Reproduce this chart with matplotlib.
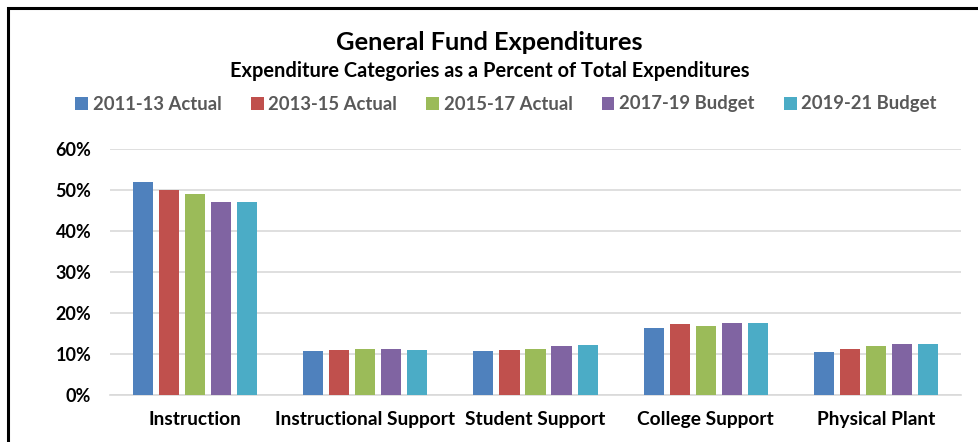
import matplotlib.pyplot as plt
import numpy as np
from matplotlib.patches import Rectangle

plt.rcParams["font.family"] = ["Lato", "DejaVu Sans"]
plt.rcParams["font.weight"] = "bold"

categories = ["Instruction", "Instructional Support", "Student Support",
              "College Support", "Physical Plant"]
series_names = ["2011-13 Actual", "2013-15 Actual", "2015-17 Actual",
                "2017-19 Budget", "2019-21 Budget"]

# share of total expenditures, percent
actual_2011_13 = [52.0, 10.7, 10.7, 16.2, 10.5]
actual_2013_15 = [50.0, 10.9, 10.8, 17.3, 11.1]
actual_2015_17 = [49.0, 11.2, 11.1, 16.8, 12.0]
budget_2017_19 = [47.0, 11.2, 11.9, 17.6, 12.4]
budget_2019_21 = [47.0, 10.9, 12.2, 17.6, 12.4]
series_values = [actual_2011_13, actual_2013_15, actual_2015_17,
                 budget_2017_19, budget_2019_21]

y_ticks = [0, 10, 20, 30, 40, 50, 60]

colors = ["#4F81BD", "#C0504D", "#9BBB59", "#8064A2", "#4BACC6"]

fig = plt.figure(figsize=(9.79, 4.42), dpi=100)
ax = fig.add_axes([110 / 979, 1 - 394.7 / 442, 851 / 979, (394.7 - 149) / 442])

x = np.arange(len(categories))
step = 0.153
width = 0.118
for i, (name, vals) in enumerate(zip(series_names, series_values)):
    ax.bar(x + (i - 2) * step, vals, width=width, color=colors[i],
           label=name, zorder=3)

ax.set_xlim(-0.5, len(categories) - 0.5)
ax.set_ylim(0, 60)
ax.set_yticks(y_ticks)
ax.set_yticklabels([f"{v}%" for v in y_ticks])
ax.set_xticks(x)
ax.set_xticklabels(categories)
ax.tick_params(axis="both", length=0)
ax.tick_params(axis="x", pad=12, labelsize=13.8)
ax.tick_params(axis="y", pad=13.5, labelsize=13)
ax.grid(axis="y", color="#D9D9D9", linewidth=1.2, zorder=0)
for side in ["top", "right", "left"]:
    ax.spines[side].set_visible(False)
ax.spines["bottom"].set_color("#D9D9D9")
ax.spines["bottom"].set_linewidth(1.2)

fig.text(0.5, 1 - 42 / 442, "General Fund Expenditures", ha="center",
         va="center", fontsize=18.3, fontweight="bold")
fig.text(0.5, 1 - 71 / 442,
         "Expenditure Categories as a Percent of Total Expenditures",
         ha="center", va="center", fontsize=14.4, fontweight="bold")

leg = fig.legend(loc="center", bbox_to_anchor=(506 / 979, 1 - 104 / 442),
                 ncol=5, frameon=False, fontsize=13.3, handlelength=0.7,
                 handleheight=0.7, handletextpad=0.25, columnspacing=1.57)
for t in leg.get_texts():
    t.set_color("#595959")

# outer chart frame
fig.patches.append(Rectangle((8 / 979, -0.05), 1.1, 1 - 8 / 442 + 0.05,
                             transform=fig.transFigure, fill=False,
                             edgecolor="black", linewidth=2.2))

fig.savefig("out.png", dpi=100)
